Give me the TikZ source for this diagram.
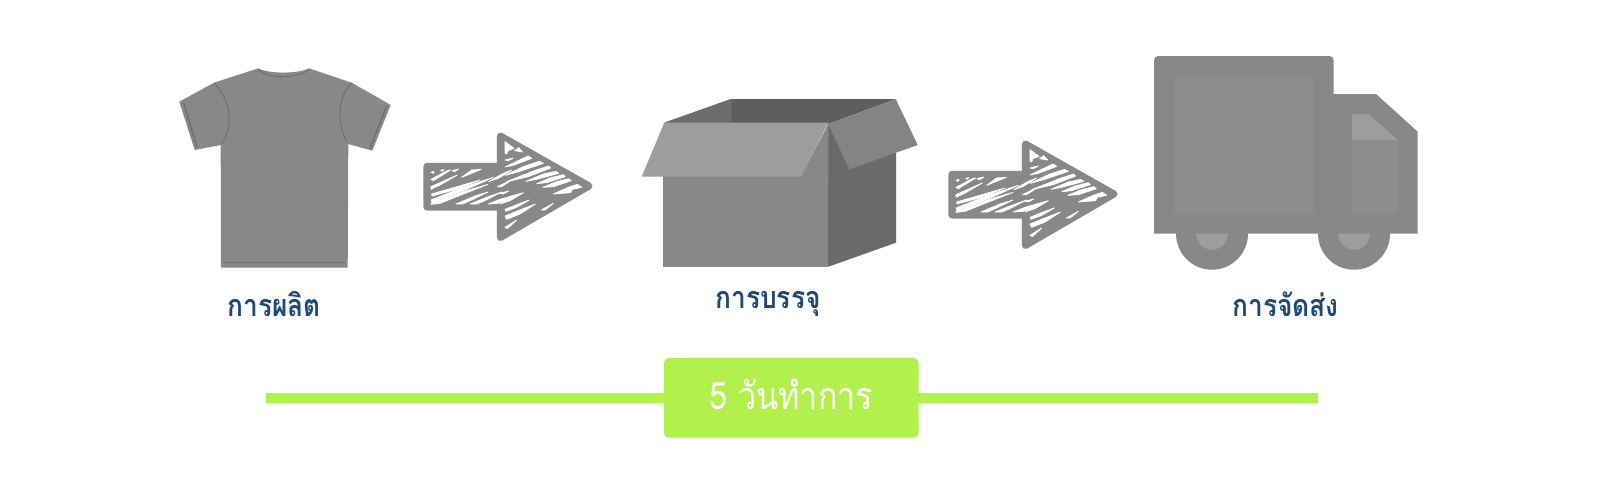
\documentclass[tikz,border=0pt]{standalone}
\usepackage{fontspec}
\newfontfamily\thaifont[Script=Thai,FakeStretch=0.86]{Loma}
\definecolor{ggrey}{HTML}{888888}
\definecolor{ginner}{HTML}{8C8C8C}
\definecolor{glight}{HTML}{9E9C9C}
\definecolor{gflap}{HTML}{848484}
\definecolor{gside}{HTML}{6A6A6A}
\definecolor{gback}{HTML}{5F5D5E}
\definecolor{gbackl}{HTML}{6E6C6C}
\definecolor{gseam}{HTML}{6F6F6F}
\definecolor{labelblue}{HTML}{1F497D}
\definecolor{barlime}{HTML}{B2F04B}
\tikzset{
  labeltext/.style={anchor=base,text=labelblue,font=\thaifont\bfseries\fontsize{8.7pt}{10pt}\selectfont,inner sep=0pt},
  seam/.style={draw=gseam,line width=0.28pt},
  arrowbody/.style={fill=ggrey,draw=ggrey,line width=2pt,line join=round},
  streak/.style={fill=white,draw=white,line width=0.22pt,line join=round},
  limebar/.style={draw=barlime,line width=2.85pt},
  daybox/.style={fill=barlime,rounded corners=1.4pt,minimum width=2.547cm,minimum height=0.797cm,inner sep=0pt,
    text=white,text height=0.24cm,text depth=0pt,font=\thaifont\fontsize{10.7pt}{12pt}\selectfont}
}
\newcommand{\sketcharrow}[1]{%
\begin{scope}[shift={#1}]
  \path[arrowbody] (7,36.3) -- (80.4,36.3) -- (80.4,6) -- (169,56) -- (80.4,107.5) -- (80.4,77) -- (7,77) -- cycle;
  % streaks of the tail, in a 3x local grid
  \begin{scope}[scale=1/3]
    \fill[streak] (125,142) -- (155,120) -- (184,118) -- cycle;
    \fill[streak] (33,148) -- (84,121) -- (92,120) -- (40,152) -- cycle;
    \fill[streak] (33,127) -- (42,124) -- (40,130) -- cycle;
    \fill[streak] (62,121) -- (72,119) -- (66,124) -- cycle;
    \fill[streak] (96,122) -- (116,117) -- (104,125) -- cycle;
    \fill[streak] (33,170) -- (112,135) -- (60,165) -- (33,178) -- cycle;
    \fill[streak] (35,192) -- (180,150) -- (110,178) -- (36,198) -- cycle;
    \fill[streak] (33,210) -- (130,172) -- (220,142) -- (140,178) -- (36,217) -- cycle;
    \fill[streak] (33,220) -- (130,185) -- (204,163) -- (120,196) -- (60,220) -- (33,223) -- cycle;
    \fill[streak] (108,222) -- (165,198) -- (204,186) -- (150,212) -- (128,222) -- cycle;
    \fill[streak] (150,222) -- (200,202) -- (245,186) -- (190,214) -- (170,222) -- cycle;
    \fill[streak] (205,222) -- (240,208) -- (275,198) -- (235,220) -- cycle;
    \fill[streak] (206,155) -- (250,130) -- (275,120) -- (235,145) -- cycle;
    \fill[streak] (232,170) -- (275,150) -- (245,170) -- cycle;
  \end{scope}
  % streaks of the head
  \begin{scope}[shift={(80,0)},scale=1/3]
    \fill[streak] (15,35) -- (42,55) -- (24,62) -- (20,72) -- (15,70) -- cycle;
    \fill[streak] (44,62) -- (56,53) -- (68,66) -- cycle;
    \fill[streak] (15,90) -- (40,84) -- (25,92) -- cycle;
    \fill[streak] (15,111) -- (84,78) -- (95,85) -- (40,106) -- cycle;
    \fill[streak] (15,136) -- (70,110) -- (118,94) -- (130,100) -- (60,124) -- cycle;
    \fill[streak] (20,155) -- (100,123) -- (146,108) -- (152,114) -- (85,140) -- cycle;
    \fill[streak] (78,154) -- (130,132) -- (168,124) -- (176,130) -- (110,148) -- cycle;
    \fill[streak] (110,161) -- (150,144) -- (190,134) -- (196,140) -- (140,158) -- cycle;
    \fill[streak] (128,172) -- (170,155) -- (206,146) -- (214,152) -- (160,170) -- cycle;
    \fill[streak] (160,192) -- (205,172) -- (232,163) -- (245,172) -- (216,178) -- (212,188) -- cycle;
    \fill[streak] (0,190) -- (26,183) -- (10,192) -- cycle;
    \fill[streak] (0,222) -- (28,200) -- (70,188) -- (30,212) -- cycle;
    \fill[streak] (15,238) -- (55,222) -- (88,210) -- (50,232) -- (18,244) -- cycle;
    \fill[streak] (15,258) -- (60,240) -- (106,222) -- (60,252) -- (20,268) -- cycle;
    \fill[streak] (15,292) -- (50,270) -- (22,296) -- cycle;
    \fill[streak] (124,240) -- (160,220) -- (135,240) -- cycle;
  \end{scope}
\end{scope}}
\begin{document}
\begin{tikzpicture}[x=0.01cm,y=-0.01cm]
\useasboundingbox[fill=white] (0,0) rectangle (1600,500);
% t-shirt
\fill[ggrey] (258.3,68.3) .. controls (268,74) and (298,74) .. (309,68.3) -- (351.7,82.7) -- (390.7,105) -- (372.3,150.7) -- (348.3,144) -- (347.7,267.7) -- (221,267.7) -- (220.7,145) -- (194.7,150) -- (179.3,101.7) -- (214,82.7) -- cycle;
\draw[seam] (258.5,69.5) .. controls (268,79) and (298,79) .. (308.8,69.5);
\draw[seam] (214,83) .. controls (228,96) and (236,125) .. (221.5,144);
\draw[seam] (351.7,83) .. controls (338,96) and (336,122) .. (347,142);
\draw[seam] (223.5,262.7) -- (345,262.7);
\draw[seam,line width=0.4pt] (183.5,103) -- (197,147);
\draw[seam,line width=0.4pt] (386.7,106) -- (370,148);
% arrows
\sketcharrow{(420,130)}
\sketcharrow{(945,138)}
% box
\fill[gback] (664.3,122.7) -- (731,99) -- (895.7,99) -- (828.3,124) -- cycle;
\fill[gbackl] (664.3,122.7) -- (731.7,99) -- (731.7,122.7) -- cycle;
\fill[gside] (827.5,124) -- (896,150) -- (896,242.7) -- (828.3,266.7) -- (827.5,266.7) -- cycle;
\fill[ggrey] (663,176) rectangle (828.3,266.7);
\fill[ggrey] (663,176) -- (801,176) -- (828.3,124) -- (828.3,180) -- cycle;
\fill[gflap] (828.3,124) -- (895.7,99) -- (917.7,145) -- (849.3,169.3) -- cycle;
\fill[glight] (664.3,122.7) -- (828.3,122.7) -- (801,176.7) -- (641.7,176.7) -- cycle;
% truck
\fill[ggrey] (1212,233.7) circle (36);
\fill[ggrey] (1354,233.7) circle (36);
\fill[ggrey,rounded corners=1.2pt] (1154,233.7) -- (1154,56) -- (1333.7,56) -- (1333.7,70) [sharp corners] -- (1333.7,94) -- (1376,94) -- (1417.7,131.7) -- (1417.7,233.7) -- cycle;
\fill[ginner] (1174,76) rectangle (1314,213.7);
\fill[ginner] (1352,140) rectangle (1397.7,213.7);
\fill[glight] (1352,114) -- (1368.3,114) -- (1397.7,140) -- (1352,140) -- cycle;
\fill[glight] (1196,233.7) arc[start angle=180,end angle=0,x radius=16,y radius=16] -- cycle;
\fill[glight] (1338,233.7) arc[start angle=180,end angle=0,x radius=16,y radius=16] -- cycle;
% labels
\node[labeltext] (lblmake) at (274,316) {การผลิต};
\node[labeltext] (lblpack) at (768,308) {การบรรจุ};
\node[labeltext] (lblship) at (1285.7,316.7) {การจัดส่ง};
% time bar
\coordinate (barL) at (266,397.7);
\coordinate (barR) at (1318,397.7);
\draw[limebar] (barL) -- (barR);
\node[daybox] (days) at (791.3,397.85) {5 วันทำการ};
\end{tikzpicture}
\end{document}
